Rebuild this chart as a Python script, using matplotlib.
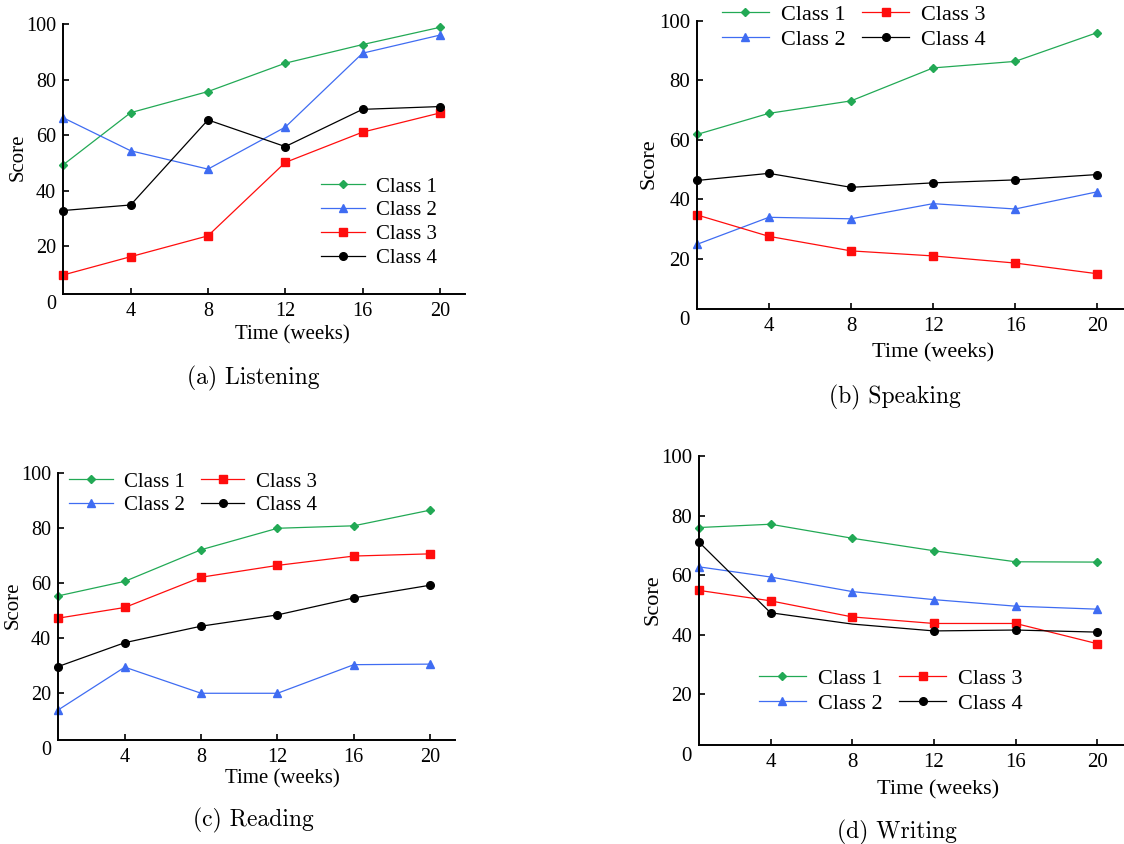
import matplotlib.pyplot as plt

# sampling weeks (first sample sits on the y axis)
weeks = [0.5, 4, 8, 12, 16, 20]
class_names = ["Class 1", "Class 2", "Class 3", "Class 4"]

listening = {
    "Class 1": [49.3, 68.1, 75.7, 85.9, 92.6, 98.8],
    "Class 2": [66.3, 54.4, 47.8, 62.9, 89.5, 96.0],
    "Class 3": [9.7, 16.3, 23.8, 50.2, 61.1, 68.0],
    "Class 4": [32.9, 34.9, 65.5, 55.9, 69.3, 70.3],
}
speaking = {
    "Class 1": [61.8, 68.9, 73.1, 84.2, 86.4, 96.1],
    "Class 2": [24.8, 33.9, 33.4, 38.5, 36.7, 42.5],
    "Class 3": [34.7, 27.5, 22.6, 20.9, 18.5, 14.9],
    "Class 4": [46.3, 48.7, 44.0, 45.5, 46.5, 48.3],
}
reading = {
    "Class 1": [55.3, 60.6, 72.1, 79.9, 80.8, 86.5],
    "Class 2": [13.8, 29.4, 19.9, 19.9, 30.3, 30.5],
    "Class 3": [47.2, 51.1, 62.1, 66.4, 69.8, 70.6],
    "Class 4": [29.6, 38.3, 44.3, 48.4, 54.6, 59.2],
}
writing = {
    "Class 1": [76.0, 77.1, 72.4, 68.2, 64.5, 64.4],
    "Class 2": [62.8, 59.4, 54.5, 51.8, 49.6, 48.6],
    "Class 3": [54.9, 51.4, 46.0, 43.8, 43.8, 37.0],
    "Class 4": [71.1, 47.4, 43.6, 41.3, 41.6, 40.9],
}

xticks = [4, 8, 12, 16, 20]
yticks = [0, 20, 40, 60, 80, 100]

styles = {
    "Class 1": dict(color="#22a955", marker="D", markersize=4.2),
    "Class 2": dict(color="#3f6cf2", marker="^", markersize=5.5),
    "Class 3": dict(color="#ff0d0d", marker="s", markersize=5.5),
    "Class 4": dict(color="black", marker="o", markersize=5.5),
}

W, H = 1124, 844
fig = plt.figure(figsize=(W / 100, H / 100), dpi=100)
serif = "Liberation Serif"


def px_axes(left, right, top, bottom):
    return fig.add_axes([left / W, 1 - bottom / H, (right - left) / W, (bottom - top) / H])


panels = [
    # data, caption, axes box (px), label coords, caption pos, legend anchor, ncol, text scale
    (listening, "(a) Listening", (63, 465, 24, 302), (0.57, -0.083), (-0.087, 0.52),
     (253, 378), (321, 177), 1, 1.0),
    (speaking, "(b) Speaking", (697, 1124, 21, 318), (0.553, -0.084), (-0.091, 0.52),
     (895, 397), (722, 4), 2, 1.07),
    (reading, "(c) Reading", (58, 455, 473, 748), (0.564, -0.076), (-0.088, 0.52),
     (253, 820), (69, 472), 2, 1.0),
    (writing, "(d) Writing", (699, 1124, 456, 754), (0.562, -0.087), (-0.087, 0.517),
     (897, 832), (759, 668), 2, 1.07),
]

for data, caption, box, xl, yl, cap, leg, ncol, k in panels:
    ax = px_axes(*box)
    for name in class_names:
        kw = dict(styles[name])
        if data is writing and name == "Class 4":
            kw["markevery"] = [0, 1, 3, 4, 5]
        ax.plot(weeks, data[name], label=name, linewidth=0.9, clip_on=False, **kw)

    ax.set_xlim(0.5, 21.3)
    ax.set_ylim(0, 100)
    ax.spines["top"].set_visible(False)
    ax.spines["right"].set_visible(False)
    ax.spines["bottom"].set_position(("data", 3))
    ax.spines["left"].set_bounds(3, 100)
    for s in ("left", "bottom"):
        ax.spines[s].set_linewidth(1.4)

    ax.set_xticks(xticks)
    ax.set_yticks(yticks)
    ax.tick_params(direction="in", length=4.5, width=1.2, labelsize=14.5 * (1 + (k - 1) / 2), pad=5)
    ax.tick_params(axis="x", pad=6)
    ax.yaxis.get_major_ticks()[0].tick1line.set_visible(False)
    for lab in ax.get_xticklabels() + ax.get_yticklabels():
        lab.set_family(serif)

    ax.set_xlabel("Time (weeks)", fontsize=15 * k, family=serif)
    ax.set_ylabel("Score", fontsize=15 * k, family=serif)
    ax.xaxis.set_label_coords(*xl)
    ax.yaxis.set_label_coords(*yl)

    ax.legend(loc="upper left", bbox_to_anchor=(leg[0] / W, 1 - leg[1] / H),
              bbox_transform=fig.transFigure, ncol=ncol, frameon=False,
              prop={"family": serif, "size": 15 * k}, handlelength=2.1,
              handletextpad=0.55, labelspacing=0.2, columnspacing=0.75,
              borderpad=0, borderaxespad=0)

    fig.text(cap[0] / W, 1 - cap[1] / H, caption, ha="center", va="center",
             family="cmr10", fontsize=17)

fig.savefig("out.png", dpi=100)
